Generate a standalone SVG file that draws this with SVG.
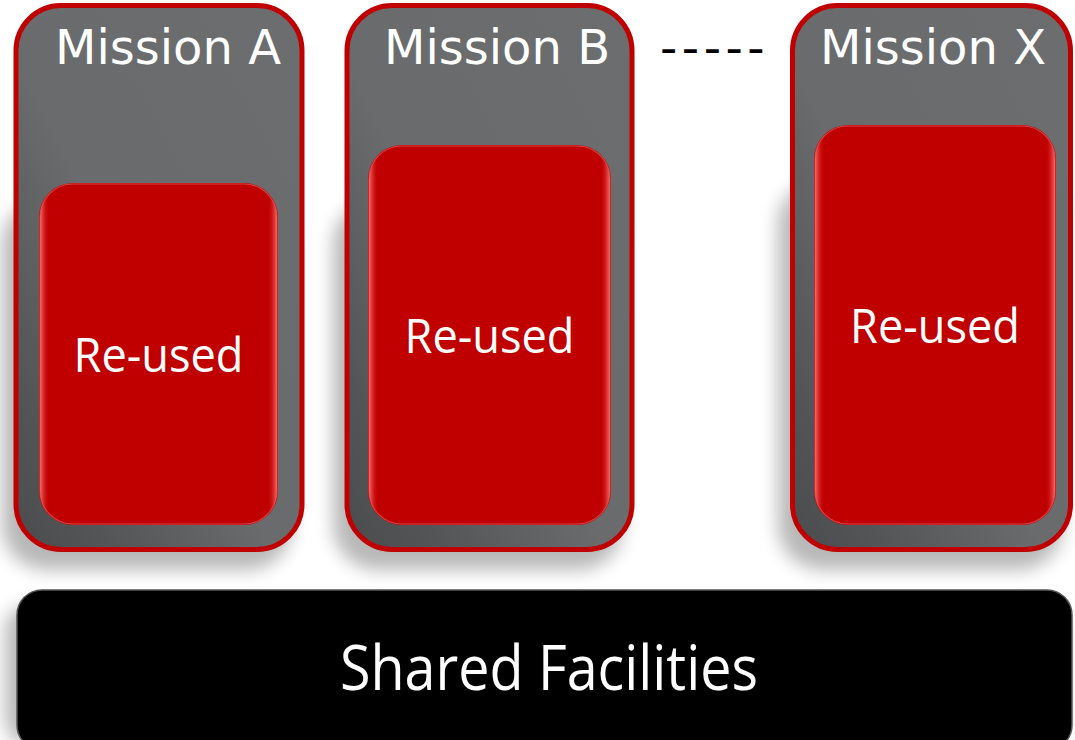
<svg xmlns="http://www.w3.org/2000/svg" width="1075" height="740" viewBox="0 0 1075 740">
  <defs>
    <linearGradient id="grayFill" x1="1" y1="0" x2="0" y2="1">
      <stop offset="0" stop-color="#6c6d6f"/>
      <stop offset="0.55" stop-color="#6a6b6d"/>
      <stop offset="0.85" stop-color="#535456"/>
      <stop offset="1" stop-color="#4b4c4e"/>
    </linearGradient>
    <linearGradient id="redEdge" x1="0" y1="0" x2="1" y2="0">
      <stop offset="0" stop-color="#ff6a6a"/>
      <stop offset="0.04" stop-color="#c00000" stop-opacity="0"/>
      <stop offset="0.96" stop-color="#c00000" stop-opacity="0"/>
      <stop offset="1" stop-color="#ff6a6a"/>
    </linearGradient>
    <filter id="blur" x="-30%" y="-30%" width="160%" height="160%">
      <feGaussianBlur stdDeviation="9"/>
    </filter>
    <style>
      .shadow { fill: #000; opacity: 0.28; filter: url(#blur); }
      .mission { fill: url(#grayFill); stroke: #c00000; stroke-width: 5; }
      .reused { fill: #c00000; }
      .gloss { fill: url(#redEdge); stroke: #e06060; stroke-width: 1.2; stroke-opacity: 0.7; }
      .base { fill: #000; stroke: #555; stroke-width: 1.5; }
      .title { font-family: "DejaVu Sans", Verdana, sans-serif; font-size: 48px; fill: #fff; }
      .label { font-family: "Open Sans", "Noto Sans", sans-serif; font-size: 47px; fill: #fff; text-anchor: middle; }
      .big { font-family: "Open Sans", "Noto Sans", sans-serif; font-size: 62px; fill: #fff; text-anchor: middle; }
      .dash { font-family: "DejaVu Sans", Verdana, sans-serif; font-size: 48px; fill: #000; letter-spacing: 4.5px; }
    </style>
  </defs>

  <g id="shadows">
    <rect class="shadow" x="2" y="200" width="290" height="370" rx="45"/>
    <rect class="shadow" x="333" y="200" width="290" height="370" rx="45"/>
    <rect class="shadow" x="778" y="180" width="285" height="390" rx="45"/>
    <rect class="shadow" x="5" y="605" width="1060" height="140" rx="25"/>
  </g>

  <g id="mission-a">
    <rect class="mission" x="16" y="5.5" width="286" height="544" rx="45"/>
    <text class="title" x="55" y="64">Mission A</text>
    <g id="reused-a">
      <rect class="reused" x="39" y="183" width="239" height="342" rx="34"/>
      <rect class="gloss" x="40" y="184" width="237" height="340" rx="33"/>
      <text class="label" x="158.5" y="372" textLength="170" lengthAdjust="spacingAndGlyphs">Re-used</text>
    </g>
  </g>

  <g id="mission-b">
    <rect class="mission" x="347" y="5.5" width="285" height="544" rx="45"/>
    <text class="title" x="384" y="64">Mission B</text>
    <g id="reused-b">
      <rect class="reused" x="368" y="145" width="243" height="380" rx="34"/>
      <rect class="gloss" x="369" y="146" width="241" height="378" rx="33"/>
      <text class="label" x="489.5" y="353" textLength="170" lengthAdjust="spacingAndGlyphs">Re-used</text>
    </g>
  </g>

  <g id="ellipsis">
    <text class="dash" x="660" y="64">-----</text>
  </g>

  <g id="mission-x">
    <rect class="mission" x="792.5" y="5.5" width="278" height="544" rx="45"/>
    <text class="title" x="820" y="64">Mission X</text>
    <g id="reused-x">
      <rect class="reused" x="814" y="125" width="242" height="400" rx="34"/>
      <rect class="gloss" x="815" y="126" width="240" height="398" rx="33"/>
      <text class="label" x="935" y="343" textLength="170" lengthAdjust="spacingAndGlyphs">Re-used</text>
    </g>
  </g>

  <g id="shared-facilities">
    <rect class="base" x="17" y="590" width="1055" height="160" rx="25"/>
    <text class="big" x="549" y="690" textLength="418" lengthAdjust="spacingAndGlyphs">Shared Facilities</text>
  </g>

  <g id="connectors"></g>
</svg>
